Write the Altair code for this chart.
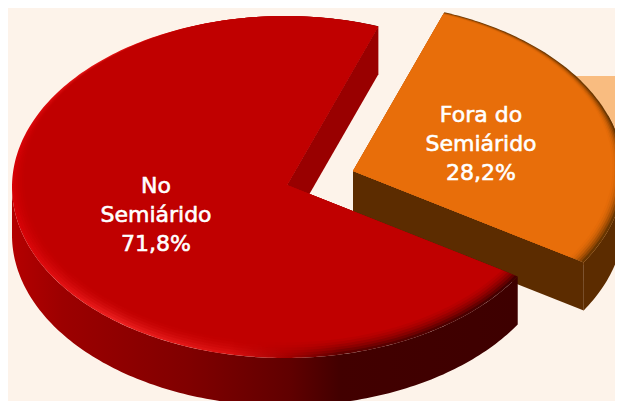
import math
import altair as alt

# --- data ---
names = ["No\nSemiárido", "Fora do\nSemiárido"]
shares = [71.8, 28.2]
share_labels = ["71,8%", "28,2%"]

# --- pie geometry (page pixels) ---
A, B, DEPTH = 273, 171, 48
CENTER_SHIFT = (-2, 2)
RED_APEX = (287, 185)
ORANGE_APEX = (353, 171)
START = 70
RED_SPAN = shares[0] * 3.6
ORG_SPAN = shares[1] * 3.6
BG = "#FDF3EA"


def rim(apex, t, k0=0.0, k=0.0, dy=0):
    rad = math.radians(t)
    r = 1 - k0 - k * (1 - math.sin(rad)) / 2
    px = apex[0] + CENTER_SHIFT[0] + A * math.cos(rad)
    py = apex[1] + CENTER_SHIFT[1] - B * math.sin(rad)
    return [apex[0] + r * (px - apex[0]), apex[1] + r * (py - apex[1]) + dy]


def angles(a, b, n=None):
    n = n or max(2, int(abs(b - a)))
    return [a + (b - a) * i / n for i in range(n + 1)]


def feature(points):
    pts = [list(p) for p in points]
    pts.append(pts[0])
    return {"type": "Feature", "properties": {}, "geometry": {"type": "Polygon", "coordinates": [pts]}}


def shape(points, fill, opacity=1):
    return (
        alt.Chart(alt.InlineData(values=[feature(points)]))
        .mark_geoshape(fill=fill, stroke=None, strokeWidth=0, opacity=opacity)
        .project(type="identity", scale=1, translate=[-8, -8])
    )


def wedge(apex, a, b, k0=0.0, k=0.0):
    return [apex] + [rim(apex, t, k0, k) for t in angles(a, b)]


def grad(stops):
    return alt.Gradient(
        gradient="linear", x1=0, x2=1, y1=0, y2=0,
        stops=[alt.GradientStop(offset=o, color=c) for o, c in stops],
    )


RED_END = START + RED_SPAN
ORG_END = RED_END + ORG_SPAN

layers = []

# pale panel behind the orange slice
layers.append(shape([(500, 76), (640, 76), (640, 265), (500, 265)], "#F9BC80"))

# orange slice: cut wall, rim wall, top
oa = rim(ORANGE_APEX, RED_END)
layers.append(shape([ORANGE_APEX, oa, (oa[0], oa[1] + DEPTH), (ORANGE_APEX[0], ORANGE_APEX[1] + DEPTH)], "#5C2C00"))
layers.append(shape(
    [rim(ORANGE_APEX, t) for t in angles(RED_END, 360 + 20)]
    + [rim(ORANGE_APEX, t, dy=DEPTH) for t in angles(360 + 20, RED_END)],
    "#5C2C00"))
layers.append(shape(wedge(ORANGE_APEX, RED_END, ORG_END), "#6A3600"))
for k0, k, op in [
    (0.002, 0.012, 0.3),
    (0.004, 0.022, 0.35),
    (0.006, 0.032, 0.45),
    (0.008, 0.042, 0.55),
    (0.010, 0.052, 0.7),
    (0.012, 0.062, 1),
]:
    layers.append(shape(wedge(ORANGE_APEX, RED_END, ORG_END, k0, k), "#E86E0A", op))

# red slice: cut wall, rim wall, top
ra = rim(RED_APEX, START)
layers.append(shape([RED_APEX, ra, (ra[0], ra[1] + DEPTH), (RED_APEX[0], RED_APEX[1] + DEPTH)], "#990000"))
layers.append(shape(
    [rim(RED_APEX, t) for t in angles(180, RED_END)]
    + [rim(RED_APEX, t, dy=DEPTH) for t in angles(RED_END, 180)],
    grad([(0, "#B40000"), (0.1, "#9C0000"), (0.35, "#800000"), (0.55, "#600000"), (0.65, "#420000"), (1, "#3E0000")]),
))
layers.append(shape(
    wedge(RED_APEX, START, RED_END),
    grad([(0, "#D60004"), (0.2, "#EC2020"), (0.43, "#DA1010"), (0.55, "#A00000"), (0.65, "#600000"), (1, "#420000")]),
))
for k, op in [(0.015, 0.25), (0.03, 0.3), (0.045, 0.35), (0.06, 0.45), (0.075, 0.6), (0.09, 1)]:
    layers.append(shape(wedge(RED_APEX, START, RED_END, 0.0, k), "#C00000", op))

# labels
label_rows = [
    {"lon": 156, "lat": 186, "txt": names[0] + "\n" + share_labels[0]},
    {"lon": 481, "lat": 115, "txt": names[1] + "\n" + share_labels[1]},
]
text = (
    alt.Chart(alt.InlineData(values=label_rows))
    .mark_text(font="DejaVu Sans", fontSize=22, color="white", stroke="white", strokeWidth=0.6,
               align="center", baseline="middle", lineBreak="\n", lineHeight=29)
    .encode(longitude="lon:Q", latitude="lat:Q", text="txt:N")
    .project(type="identity", scale=1, translate=[-8, -8])
)
layers.append(text)

chart = (
    alt.layer(*layers)
    .properties(width=607, height=393, background=BG, padding=0, autosize=alt.AutoSizeParams(type="none"))
    .configure_view(stroke=None, fill=BG)
)

chart.save("out.html", embed_options={"renderer": "svg", "actions": False})
